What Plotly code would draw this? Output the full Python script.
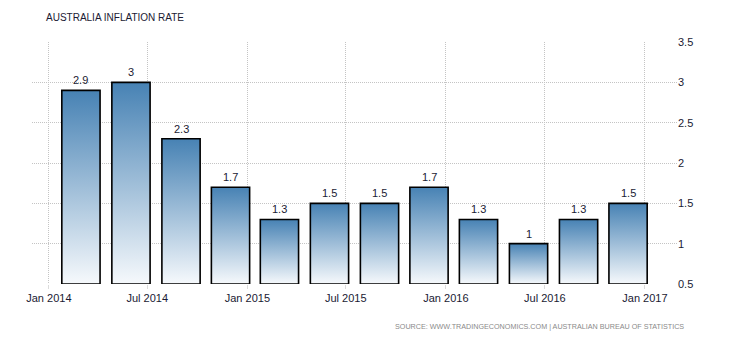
import pandas as pd
import plotly.graph_objects as go

# ---- data ----
quarters = ["2014-03-01", "2014-06-01", "2014-09-01", "2014-12-01",
            "2015-03-01", "2015-06-01", "2015-09-01", "2015-12-01",
            "2016-03-01", "2016-06-01", "2016-09-01", "2016-12-01"]
inflation = [2.9, 3.0, 2.3, 1.7, 1.3, 1.5, 1.5, 1.7, 1.3, 1.0, 1.3, 1.5]
value_labels = ["2.9", "3", "2.3", "1.7", "1.3", "1.5", "1.5", "1.7", "1.3", "1", "1.3", "1.5"]
x_tick_dates = ["2014-01-01", "2014-07-01", "2015-01-01", "2015-07-01",
                "2016-01-01", "2016-07-01", "2017-01-01"]
x_tick_labels = ["Jan 2014", "Jul 2014", "Jan 2015", "Jul 2015",
                 "Jan 2016", "Jul 2016", "Jan 2017"]
y_ticks = [0.5, 1, 1.5, 2, 2.5, 3, 3.5]
y_tick_labels = ["0.5", "1", "1.5", "2", "2.5", "3", "3.5"]

FONT = "Liberation Sans"
TXT = "#1a1a33"
GRID = "#c4c4c4"
Y_BASE = 0.5
half_width = pd.Timedelta(hours=36 * 24 - 20)

fig = go.Figure()

# gradient-filled bars (one filled polygon per bar, built from the data)
for d, v in zip(quarters, inflation):
    c = pd.Timestamp(d)
    x0, x1 = c - half_width, c + half_width
    fig.add_trace(go.Scatter(
        x=[x0, x0, x1, x1, x0], y=[Y_BASE, v, v, Y_BASE, Y_BASE],
        mode="lines", fill="toself",
        fillgradient=dict(type="vertical",
                          colorscale=[[0, "#f6f9fc"], [1, "#4782b4"]]),
        line=dict(color="#000000", width=1.6),
        hoverinfo="skip", showlegend=False,
    ))

# value labels above bars
annotations = [
    dict(x=d, y=v, text=t, xref="x", yref="y", showarrow=False,
         yanchor="bottom", yshift=2,
         font=dict(family=FONT, size=11, color=TXT))
    for d, v, t in zip(quarters, inflation, value_labels)
]

annotations += [
    dict(text="AUSTRALIA INFLATION RATE", xref="paper", yref="paper",
         x=0.0186, y=1.0, yanchor="bottom", xanchor="left", yshift=17,
         showarrow=False,
         font=dict(family=FONT, size=10, color=TXT)),
    dict(text="SOURCE: WWW.TRADINGECONOMICS.COM | AUSTRALIAN BUREAU OF STATISTICS",
         xref="paper", yref="paper", x=1.0, y=0, xanchor="right",
         yanchor="top", xshift=9, yshift=-36, showarrow=False,
         font=dict(family=FONT, size=7.2, color="#8a8a8a")),
]

fig.update_layout(
    width=730, height=340,
    margin=dict(l=32, r=53, t=42, b=56, autoexpand=False),
    paper_bgcolor="white", plot_bgcolor="white",
    font=dict(family=FONT, size=11, color=TXT),
    xaxis=dict(
        type="date", range=["2013-12-01", "2017-03-01"],
        tickvals=x_tick_dates, ticktext=x_tick_labels,
        showgrid=True, gridcolor=GRID, griddash="1px,1px", gridwidth=1,
        ticks="outside", ticklen=4, tickcolor="#dcdcdc",
        showline=False, zeroline=False, automargin=False,
        tickfont=dict(family=FONT, size=11, color=TXT),
    ),
    yaxis=dict(
        side="right", range=[0.5, 3.5],
        tickvals=y_ticks, ticktext=y_tick_labels,
        showgrid=True, gridcolor=GRID, griddash="1px,1px", gridwidth=1,
        showline=False, zeroline=False, ticks="", automargin=False,
        tickfont=dict(family=FONT, size=11, color=TXT),
    ),
    annotations=annotations,
)

fig.write_html("out.html")
